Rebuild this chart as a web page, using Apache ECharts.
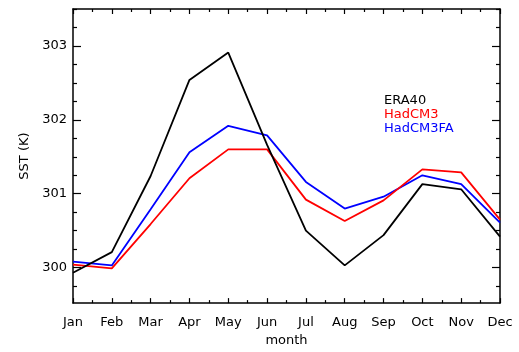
<!DOCTYPE html>
<html>
<head>
<meta charset="utf-8">
<script src="https://cdn.jsdelivr.net/npm/echarts@6/dist/echarts.min.js"></script>
<style>
  html, body { margin: 0; padding: 0; background: #fff; }
  #chart { width: 519px; height: 352px; }
</style>
</head>
<body>
<div id="chart"></div>
<script>
// Monthly mean sea surface temperature (K)
var months = ['Jan', 'Feb', 'Mar', 'Apr', 'May', 'Jun', 'Jul', 'Aug', 'Sep', 'Oct', 'Nov', 'Dec'];
var era40 = [299.93, 300.21, 301.24, 302.54, 302.91, 301.66, 300.50, 300.03, 300.44, 301.13, 301.06, 300.42];
var hadcm3 = [300.04, 299.99, 300.59, 301.21, 301.60, 301.60, 300.92, 300.63, 300.91, 301.33, 301.29, 300.65];
var hadcm3fa = [300.08, 300.03, 300.79, 301.56, 301.92, 301.79, 301.16, 300.80, 300.96, 301.25, 301.13, 300.61];
var seriesNames = ['ERA40', 'HadCM3', 'HadCM3FA'];
var seriesColors = ['#000000', '#ff0000', '#0000ff'];
var yMajorTicks = [300, 301, 302, 303];
var yMin = 299.52, yMax = 303.5;

var FONT = 'DejaVu Sans';

// minor tick positions: quarters on y, half-months on x
var yMinorTicks = [];
for (var q = Math.ceil(yMin * 4); q <= Math.floor(yMax * 4); q++) {
  var v = q / 4;
  if (v % 1 !== 0) yMinorTicks.push(v);
}
var xMinorTicks = [];
for (var h = 0; h < months.length - 1; h++) xMinorTicks.push(h + 0.5);

var chart = echarts.init(document.getElementById('chart'), null, { renderer: 'canvas' });

var axisLine = { show: true, lineStyle: { color: '#000', width: 1.5 } };
var noLine = { show: false };

function yTickAxis(position, values, len, withLabels, withLine) {
  return {
    type: 'value', position: position, min: yMin, max: yMax,
    splitLine: { show: false },
    axisLine: withLine ? axisLine : noLine,
    axisTick: { show: true, inside: true, length: len, customValues: values, lineStyle: { color: '#000', width: 1.2 } },
    axisLabel: withLabels
      ? { show: true, customValues: values, color: '#000', fontFamily: FONT, fontSize: 13, margin: 6 }
      : { show: false }
  };
}

var option = {
  backgroundColor: '#fff',
  animation: false,
  grid: { left: 73, right: 19, top: 9, bottom: 44, containLabel: false },
  legend: {
    orient: 'vertical', left: 374, top: 89,
    icon: 'none', itemWidth: 0, itemHeight: 13, itemGap: 1,
    selectedMode: false,
    textStyle: { fontFamily: FONT, fontSize: 13 },
    data: seriesNames.map(function (n, i) {
      return { name: n, textStyle: { color: seriesColors[i] } };
    })
  },
  xAxis: [
    {
      type: 'category', data: months, boundaryGap: false, position: 'bottom',
      name: 'month', nameLocation: 'middle', nameGap: 27,
      nameTextStyle: { color: '#000', fontFamily: FONT, fontSize: 13 },
      axisLine: axisLine,
      axisTick: { show: true, inside: true, length: 5, alignWithLabel: true, lineStyle: { color: '#000', width: 1.2 } },
      axisLabel: { color: '#000', fontFamily: FONT, fontSize: 13, margin: 13, interval: 0 },
      splitLine: { show: false }
    },
    {
      type: 'category', data: months, boundaryGap: false, position: 'top',
      axisLine: axisLine,
      axisTick: { show: true, inside: true, length: 5, lineStyle: { color: '#000', width: 1.2 } },
      axisLabel: { show: false },
      splitLine: { show: false }
    },
    {
      type: 'value', min: 0, max: months.length - 1, position: 'bottom',
      axisLine: noLine, splitLine: { show: false }, axisLabel: { show: false },
      axisTick: { show: true, inside: true, length: 3, customValues: xMinorTicks, lineStyle: { color: '#000', width: 1.2 } }
    },
    {
      type: 'value', min: 0, max: months.length - 1, position: 'top',
      axisLine: noLine, splitLine: { show: false }, axisLabel: { show: false },
      axisTick: { show: true, inside: true, length: 3, customValues: xMinorTicks, lineStyle: { color: '#000', width: 1.2 } }
    }
  ],
  yAxis: [
    Object.assign(yTickAxis('left', yMajorTicks, 8, true, true), {
      name: 'SST (K)', nameLocation: 'middle', nameGap: 41, nameRotate: 90,
      nameTextStyle: { color: '#000', fontFamily: FONT, fontSize: 13 }
    }),
    yTickAxis('left', yMinorTicks, 4, false, false),
    yTickAxis('right', yMajorTicks, 8, false, true),
    yTickAxis('right', yMinorTicks, 4, false, false)
  ],
  series: [era40, hadcm3, hadcm3fa].map(function (vals, i) {
    return {
      name: seriesNames[i], type: 'line', data: vals,
      xAxisIndex: 0, yAxisIndex: 0,
      symbol: 'none', smooth: false,
      lineStyle: { color: seriesColors[i], width: 1.8 },
      itemStyle: { color: seriesColors[i] },
      z: 3 - i
    };
  })
};

chart.setOption(option);
</script>
</body>
</html>
